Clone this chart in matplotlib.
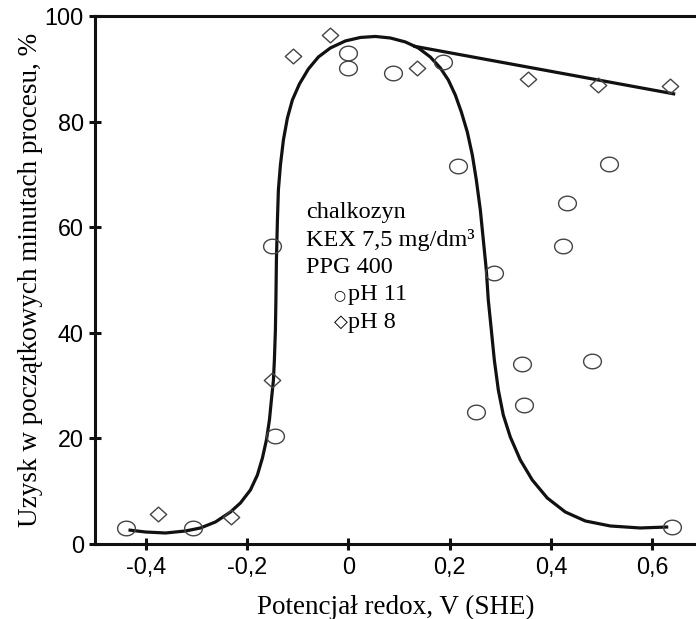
import numpy as np
import matplotlib
matplotlib.use("Agg")
import matplotlib.pyplot as plt
from matplotlib.path import Path

# ---- data ----
ph11_x = [-0.438, -0.306, -0.150, -0.144, 0.000, 0.000, 0.089, 0.187, 0.217, 0.288,
          0.252, 0.343, 0.347, 0.432, 0.424, 0.515, 0.481, 0.639]
ph11_y = [3.0, 3.0, 56.4, 20.5, 93.0, 90.2, 89.2, 91.3, 71.6, 51.3,
          25.0, 34.1, 26.3, 64.6, 56.4, 72.0, 34.7, 3.2]

ph8_x = [-0.375, -0.231, -0.150, -0.110, -0.036, 0.136, 0.355, 0.493, 0.635]
ph8_y = [5.7, 5.1, 31.1, 92.4, 96.4, 90.2, 88.1, 86.9, 86.7]

# fitted bell-shaped curve (pH 11)
curve_x = [-0.4339, -0.4004, -0.3609, -0.3215, -0.2919, -0.2623, -0.2327, -0.2130,
           -0.1933, -0.1795, -0.1696, -0.1617, -0.1558, -0.1519, -0.1479, -0.1460,
           -0.1440, -0.1430, -0.1420, -0.1400, -0.1381, -0.1341, -0.1282, -0.1203,
           -0.1105, -0.0966, -0.0789, -0.0592, -0.0355, -0.0059, 0.0237, 0.0533,
           0.0828, 0.1124, 0.1381, 0.1617, 0.1815, 0.1972, 0.2110, 0.2229,
           0.2347, 0.2446, 0.2525, 0.2604, 0.2663, 0.2722, 0.2761, 0.2821,
           0.2880, 0.2959, 0.3057, 0.3195, 0.3393, 0.3629, 0.3925, 0.4280,
           0.4675, 0.5168, 0.5759, 0.6312]
curve_y = [2.65, 2.27, 2.08, 2.46, 3.03, 4.17, 6.06, 7.77,
           10.23, 13.07, 16.29, 19.70, 23.48, 27.27, 31.06, 34.85,
           40.53, 46.21, 53.79, 61.36, 67.05, 71.78, 76.52, 80.68,
           84.09, 87.12, 89.96, 92.23, 93.94, 95.27, 95.93, 96.12,
           95.83, 95.08, 93.94, 92.23, 90.15, 87.88, 85.04, 81.82,
           78.03, 73.67, 68.94, 63.26, 57.58, 51.89, 46.21, 40.53,
           34.85, 29.17, 24.43, 20.27, 15.91, 12.12, 8.71, 6.06,
           4.36, 3.41, 3.03, 3.22]

# straight trend line (pH 8)
line_x = [0.128, 0.645]
line_y = [94.3, 85.2]

xticks = [-0.4, -0.2, 0.0, 0.2, 0.4, 0.6]
xticklabels = ["-0,4", "-0,2", "0", "0,2", "0,4", "0,6"]
yticks = [0, 20, 40, 60, 80, 100]
yticklabels = ["0", "20", "40", "60", "80", "100"]

annot_lines = ["chalkozyn", "KEX 7,5 mg/dm\u00b3", "PPG 400"]

# ---- figure ----
fig = plt.figure(figsize=(6.96, 6.19), dpi=100)
ax = fig.add_axes([0.1365, 0.1212, 0.8635, 0.853])

serif = ["Liberation Serif", "DejaVu Serif"]
sans = ["Liberation Sans", "DejaVu Sans"]

t = np.linspace(0, 2 * np.pi, 60)
ellipse = Path(np.column_stack([np.cos(t), 0.82 * np.sin(t)]), closed=True)
diamond = Path([(0, 0.9), (1, 0), (0, -0.9), (-1, 0), (0, 0.9)], closed=True)

ax.plot(curve_x, curve_y, color="#111111", lw=2.3, solid_capstyle="butt",
        solid_joinstyle="round", zorder=2)
ax.plot(line_x, line_y, color="#111111", lw=2.3, solid_capstyle="butt", zorder=2)

ax.plot(ph11_x, ph11_y, linestyle="none", marker=ellipse, markersize=12.8,
        markerfacecolor="none", markeredgecolor="#444444", markeredgewidth=1.0, zorder=3)
ax.plot(ph8_x, ph8_y, linestyle="none", marker=diamond, markersize=11.8,
        markerfacecolor="none", markeredgecolor="#444444", markeredgewidth=1.0, zorder=3)

ax.set_xlim(-0.5, 0.686)
ax.set_ylim(0, 100)

ax.spines["right"].set_visible(False)
for s in ["left", "bottom", "top"]:
    ax.spines[s].set_linewidth(2.2)
    ax.spines[s].set_color("#111111")

ax.set_xticks(xticks)
ax.set_xticklabels(xticklabels, fontfamily=sans, fontsize=16.8)
ax.set_yticks(yticks)
ax.set_yticklabels(yticklabels, fontfamily=sans, fontsize=16.8)
ax.tick_params(axis="both", direction="inout", length=8, width=2.2, color="#111111")
ax.tick_params(axis="x", pad=5)
ax.tick_params(axis="y", pad=4)

ax.set_xlabel("Potencjał redox, V (SHE)", fontfamily=serif, fontsize=19.5, labelpad=11)
ax.set_ylabel("Uzysk w początkowych minutach procesu, %", fontfamily=serif,
              fontsize=19.5, labelpad=1)

# annotation block
ys = [62.7, 57.6, 52.3]
for txt, yy in zip(annot_lines, ys):
    ax.text(-0.083, yy, txt, fontfamily=serif, fontsize=17.5, va="center", ha="left")
ax.text(-0.005, 47.2, "○", fontfamily=["DejaVu Sans"], fontsize=10, va="center", ha="right")
ax.text(0.0, 47.2, "pH 11", fontfamily=serif, fontsize=17.5, va="center", ha="left")
ax.text(-0.002, 42.0, "◇", fontfamily=["DejaVu Sans"], fontsize=13, va="center", ha="right")
ax.text(0.0, 42.0, "pH 8", fontfamily=serif, fontsize=17.5, va="center", ha="left")

fig.savefig("out.png", dpi=100)
